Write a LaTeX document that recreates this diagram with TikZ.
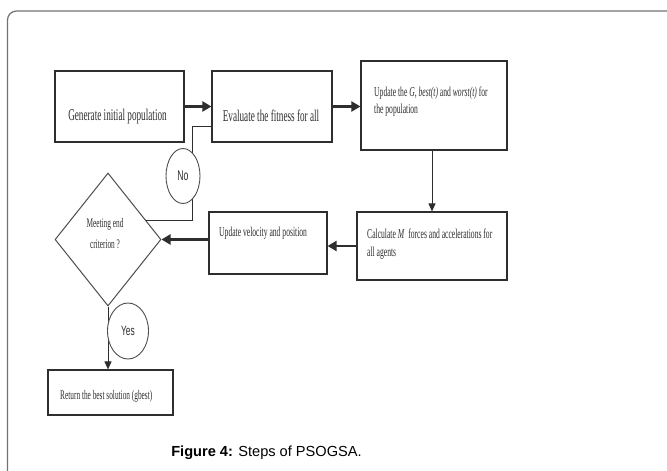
\documentclass[tikz,border=0pt]{standalone}
\usepackage{fontspec}
\usetikzlibrary{shapes.geometric,arrows.meta,shadows,calc}
\newfontfamily\serifc[FakeStretch=0.56]{Liberation Serif}
\newfontfamily\sansc[FakeStretch=0.62]{Liberation Sans}
\newfontfamily\capf{Liberation Sans}
\definecolor{frameg}{HTML}{727272}
\definecolor{ink}{HTML}{2E2E2E}
\tikzset{
  box/.style={draw=ink, line width=1.2pt, fill=white, inner sep=0pt,
    drop shadow={shadow xshift=1.3pt, shadow yshift=-1.3pt, fill=black!45, opacity=1}},
  dia/.style={diamond, draw=ink!85, line width=1pt, fill=white, inner sep=0pt},
  bubble/.style={ellipse, draw=ink!85, line width=0.9pt, fill=white, inner sep=0pt, text=ink},
  txtbig/.style={font=\serifc\fontsize{16.4}{18}\selectfont, text=ink, inner sep=0pt},
  txt/.style={font=\serifc\fontsize{13.6}{15}\selectfont, text=ink, inner sep=0pt},
  txtsm/.style={font=\serifc\fontsize{13.1}{15}\selectfont, text=ink, inner sep=0pt},
  thickarrow/.style={draw=ink, line width=2.6pt, -{Triangle[length=9pt,width=10pt]}},
  thinarrow/.style={draw=ink, line width=1pt, -{Triangle[length=8pt,width=7pt]}},
  thinline/.style={draw=ink, line width=1pt},
}
\begin{document}
\begin{tikzpicture}[x=1pt,y=-1pt]
\useasboundingbox (0,0) rectangle (667,471);
\clip (0,0) rectangle (667,471);
\fill[white] (0,0) rectangle (667,471);
\draw[frameg, line width=1.2pt, rounded corners=9pt] (7.5,11) rectangle (700,510);

% boxes
\node[box, minimum width=129pt, minimum height=71pt] (b1) at (119.5,106.5) {};
\node[box, minimum width=120pt, minimum height=71pt] (b2) at (272,106.5) {};
\node[box, minimum width=146pt, minimum height=89pt] (b3) at (434,105.5) {};
\node[box, minimum width=150pt, minimum height=68pt] (b4) at (432,246) {};
\node[box, minimum width=118pt, minimum height=62pt] (b5) at (268,243) {};
\node[dia, minimum width=106pt, minimum height=133pt] (d) at (108,239.5) {};
\node[box, minimum width=125pt, minimum height=45pt] (ret) at (110.5,392.5) {};

% texts
\node[txtbig, anchor=base] (t1) at (117.5,120) {Generate initial population};
\node[txtbig, anchor=base] (t2) at (271,121) {Evaluate the fitness for all};
\node[txt, anchor=base west] (t3a) at (374,96) {Update the \textit{G}, \textit{best(t)} and \textit{worst(t)} for};
\node[txt, anchor=base west] (t3b) at (374,113) {the population};
\node[txt, anchor=base west] (t4a) at (367,238) {Calculate \textit{M}\ \ forces and accelerations for};
\node[txt, anchor=base west] (t4b) at (367,256) {all agents};
\node[txt, anchor=base west] (t5) at (219,236) {Update velocity and position};
\node[txtsm, anchor=base] (tda) at (105,227) {Meeting end};
\node[txtsm, anchor=base] (tdb) at (105,248) {criterion ?};
\node[txtsm, anchor=base west] (tr) at (60,399) {Return the best solution (gbest)};

% connectors
\draw[thickarrow] (b1.east) -- (b2.west);
\draw[thickarrow] (b2.east) -- (b2.east -| b3.west);
\draw[thinarrow] (b3.south -| b4.north) -- (b4.north);
\draw[thickarrow] (b4.west) -- (b4.west -| b5.east);
\draw[thickarrow] (b5.west |- d.east) -- (d.east);
\coordinate (p) at ($(d.north)!0.712!(d.east)$);
\draw[thinline] (p) -| (192,126) -- ([yshift=-19.5pt]b2.west);
\draw[thinarrow] (d.south) -- (d.south |- ret.north);

% bubbles
\node[bubble, minimum width=34pt, minimum height=55pt, font=\sansc\fontsize{14}{15}\selectfont] (no) at (183,176) {No};
\node[bubble, minimum width=41pt, minimum height=56pt, font=\sansc\fontsize{13.5}{15}\selectfont] (yes) at (128,331) {Yes};

% caption
\node[anchor=base, inner sep=0pt, font=\capf\fontsize{14.6}{16}\selectfont] (cap) at (266.5,456) {\textbf{Figure 4:} Steps of PSOGSA.};
\end{tikzpicture}
\end{document}
